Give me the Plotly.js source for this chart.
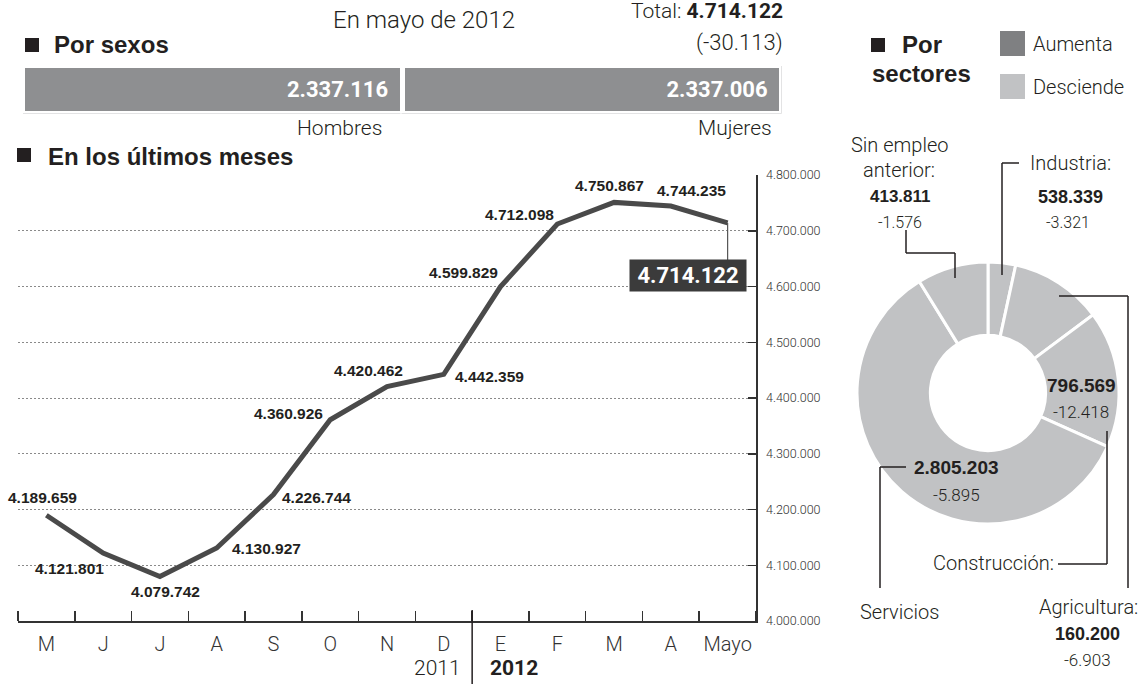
<!DOCTYPE html>
<html><head><meta charset="utf-8">
<script src="https://cdn.plot.ly/plotly-3.0.1.min.js"></script>
<style>html,body{margin:0;padding:0;background:#fff}#chart{width:1144px;height:684px}</style>
</head><body><div id="chart"></div>
<script>
// ---------- data ----------
const monthLabels = ['M','J','J','A','S','O','N','D','E','F','M','A','Mayo'];
const paro = [4189659,4121801,4079742,4130927,4226744,4360926,4420462,4442359,4599829,4712098,4750867,4744235,4714122];
const yearLabels = ['2011','2012'];
const sexLabels = ['Hombres','Mujeres'];
const sexValues = [2337116,2337006];
const sectorNames = ['Agricultura','Industria','Construcción','Servicios','Sin empleo anterior'];
const sectorValues = [160200,538339,796569,2805203,413811];
const sectorChanges = [-6903,-3321,-12418,-5895,-1576];
const totalValue = 4714122;
const totalChange = -30113;
const yTickVals = [4000000,4100000,4200000,4300000,4400000,4500000,4600000,4700000,4800000];
const legendLabels = ['Aumenta','Desciende'];

// ---------- helpers ----------
const W = 1144, H = 684;
const px = x => x / W;
const py = y => 1 - y / H;
const fmt = v => (v < 0 ? '-' : '') + Math.abs(v).toString().replace(/\B(?=(\d{3})+(?!\d))/g, '.');
const FB = 'Liberation Sans Narrow, Liberation Sans, Arial, sans-serif';
const FL = 'Roboto, Liberation Sans, sans-serif';
const INK = '#231f20';
const idx = monthLabels.map((_, i) => i);
const bounds = idx.map(i => i - 0.5).concat([monthLabels.length - 0.5]);

// ---------- traces ----------
const lineTrace = {
  type: 'scatter', mode: 'lines', x: idx, y: paro, xaxis: 'x', yaxis: 'y',
  line: {color: '#4a4a4a', width: 5}, hoverinfo: 'skip', cliponaxis: false, showlegend: false
};
const sexTraces = sexLabels.map((lab, i) => ({
  type: 'bar', orientation: 'h', name: lab, x: [sexValues[i]], y: ['s'], xaxis: 'x2', yaxis: 'y2',
  marker: {color: '#8e8f91', line: {color: '#fff', width: 5}},
  text: [fmt(sexValues[i]) + '\u00a0\u00a0'], textposition: 'inside', insidetextanchor: 'end',
  textfont: {family: FL, size: 22, weight: 700, color: '#fff'},
  hoverinfo: 'skip', showlegend: false
}));
const pieTrace = {
  type: 'pie', labels: sectorNames, values: sectorValues, sort: false, direction: 'clockwise', rotation: 0,
  hole: 0.44, textinfo: 'none', hoverinfo: 'skip', showlegend: false,
  marker: {colors: sectorNames.map(() => '#c1c2c4'), line: {color: '#fff', width: 3}},
  domain: {x: [px(857), px(1119)], y: [py(524), py(262)]}
};

// ---------- annotations ----------
const ann = [];
function txt(x, y, text, size, opts = {}) {
  ann.push(Object.assign({xref: 'paper', yref: 'paper', x: px(x), y: py(y), text, showarrow: false,
    xanchor: 'center', yanchor: 'middle',
    font: {family: opts.bold ? FB : FL, size, weight: opts.bold ? 700 : 300, color: opts.color || INK}}, opts.extra || {}));
}
// header
txt(424, 20, 'En mayo de 2012', 24);
ann.push({xref:'paper', yref:'paper', x: px(785), y: py(11), xanchor:'right', yanchor:'middle', showarrow:false,
  text: 'Total: <b>' + fmt(totalValue) + '</b>', font:{family: FL, size: 21, weight: 300, color: INK}});
txt(785, 43, '(' + fmt(totalChange) + ')', 22, {extra: {xanchor: 'right'}});
txt(52, 45, 'Por sexos', 24, {bold: true, extra: {xanchor: 'left'}});
txt(384, 128, sexLabels[0], 21, {extra: {xanchor: 'right'}});
txt(774, 128, sexLabels[1], 21, {extra: {xanchor: 'right'}});
txt(46, 156, 'En los últimos meses', 24, {bold: true, extra: {xanchor: 'left'}});
// line labels
const offs = [[-4,18],[-34,-15],[6,-15],[50,0],[43,-3],[-42,6],[-19,16],[46,-2],[-37,14],[-38,10],[-5,17],[21,16]];
offs.forEach((o, i) => ann.push({xref:'x', yref:'y', x: idx[i], y: paro[i], text: fmt(paro[i]), showarrow:false,
  xshift: o[0], yshift: o[1], font:{family: FB, size: 15.5, weight: 700, color: INK}}));
const last = paro.length - 1;
ann.push({xref:'x', yref:'y', x: idx[last], y: paro[last], text: '\u2009' + fmt(paro[last]) + '\u2009', showarrow:false,
  xshift: -40, yshift: -53, bgcolor: '#3b3b3b', borderpad: 3,
  font:{family: FL, size: 22, weight: 700, color: '#fff'}});
// years
txt(463, 668, yearLabels[0], 21, {extra: {xanchor: 'right'}});
txt(488, 668, '<b>' + yearLabels[1] + '</b>', 21, {extra: {xanchor: 'left'}});
// sectors header & legend
txt(900, 45, 'Por', 24, {bold: true, extra: {xanchor: 'left'}});
txt(870, 73, 'sectores', 24, {bold: true, extra: {xanchor: 'left'}});
txt(1031, 44, legendLabels[0], 20, {extra: {xanchor: 'left'}});
txt(1031, 87, legendLabels[1], 20, {extra: {xanchor: 'left'}});
// sector labels
txt(899, 145, 'Sin empleo', 20);
txt(899, 170, 'anterior:', 20);
txt(900, 197, fmt(sectorValues[4]), 17, {bold: true});
txt(900, 222, fmt(sectorChanges[4]), 16);
txt(1070, 163, sectorNames[1] + ':', 20);
txt(1070, 197, fmt(sectorValues[1]), 18, {bold: true});
txt(1068, 222, fmt(sectorChanges[1]), 16);
txt(1081, 385, fmt(sectorValues[2]), 19, {bold: true});
txt(1081, 412, fmt(sectorChanges[2]), 17);
txt(956, 467, fmt(sectorValues[3]), 19, {bold: true});
txt(956, 495, fmt(sectorChanges[3]), 17);
txt(1056, 563, sectorNames[2] + ':', 20, {extra: {xanchor: 'right'}});
txt(899, 612, sectorNames[3], 20);
txt(1088, 607, sectorNames[0] + ':', 20);
txt(1087, 634, fmt(sectorValues[0]), 18, {bold: true});
txt(1087, 660, fmt(sectorChanges[0]), 17);

// ---------- shapes ----------
const shapes = [];
const rect = (x0, y0, x1, y1, c) => shapes.push({type:'rect', xref:'paper', yref:'paper', x0:px(x0), x1:px(x1), y0:py(y1), y1:py(y0), fillcolor:c, line:{width:0}});
const seg = (pts) => { for (let i = 0; i < pts.length - 1; i++) shapes.push({type:'line', xref:'paper', yref:'paper',
  x0:px(pts[i][0]), y0:py(pts[i][1]), x1:px(pts[i+1][0]), y1:py(pts[i+1][1]), line:{color: INK, width: 1.5}}); };
rect(25, 38, 39, 52, INK);
rect(17, 148, 31, 162, INK);
rect(871, 38, 885, 52, INK);
rect(1000, 31, 1025, 56, '#7f8082');
rect(1000, 74, 1025, 99, '#c1c2c4');
seg([[906,230],[906,253],[955,253],[955,278]]);
seg([[1019,163],[1002,163],[1002,275]]);
seg([[1059,296],[1128,296],[1128,588]]);
seg([[1107,431],[1107,564],[1058,564]]);
seg([[906,467],[880,467],[880,588]]);
// year separator
shapes.push({type:'line', xref:'x', yref:'paper', x0: 7.5, x1: 7.5, y0: py(684), y1: py(610), line:{color: INK, width: 1.5}});
// connector to final value box
shapes.push({type:'line', xref:'x', yref:'y', ysizemode:'pixel', yanchor: paro[last], x0: idx[last], x1: idx[last], y0: 0, y1: -38, line:{color:'#555', width:1.2}});

// ---------- layout ----------
const layout = {
  width: W, height: H, margin: {l:0, r:0, t:0, b:0}, paper_bgcolor:'#fff', plot_bgcolor:'#fff',
  separators: ',.', showlegend: false, barmode: 'stack', bargap: 0,
  xaxis: {domain: [px(18), px(756)], range: [-0.5, monthLabels.length - 0.5], tickmode:'array', tickvals: idx, ticktext: monthLabels,
    ticks: '', showgrid: false, zeroline: false, showline: true, linecolor: '#333', linewidth: 1.5,
    tickfont: {family: FL, size: 20, weight: 300, color: '#333'}, ticklabelstandoff: 4, automargin: false, fixedrange: true,
    minor: {tickmode:'array', tickvals: bounds, ticks: 'inside', ticklen: 10, tickcolor: '#333', tickwidth: 1.5, showgrid: false}},
  yaxis: {domain: [py(621), py(175)], range: [yTickVals[0], yTickVals[yTickVals.length-1]], side: 'right',
    tickmode: 'array', tickvals: yTickVals, tickformat: ',d', ticks: 'inside', ticklen: 8, tickcolor: '#333', tickwidth: 1.5,
    showline: true, linecolor: '#333', linewidth: 1.5, zeroline: false,
    showgrid: true, gridcolor: '#8a8a8a', griddash: '2px,2px', gridwidth: 1, ticklabelstandoff: 6,
    tickfont: {family: FL, size: 12.5, weight: 300, color: '#333'}, automargin: false, fixedrange: true},
  xaxis2: {domain: [px(22.5), px(781.5)], range: [0, sexValues[0] + sexValues[1]], visible: false, anchor: 'y2', fixedrange: true},
  yaxis2: {domain: [py(113.5), py(65.5)], visible: false, anchor: 'x2', fixedrange: true},
  annotations: ann, shapes: shapes
};

Plotly.newPlot('chart', [lineTrace, ...sexTraces, pieTrace], layout, {staticPlot: true});
</script></body></html>
